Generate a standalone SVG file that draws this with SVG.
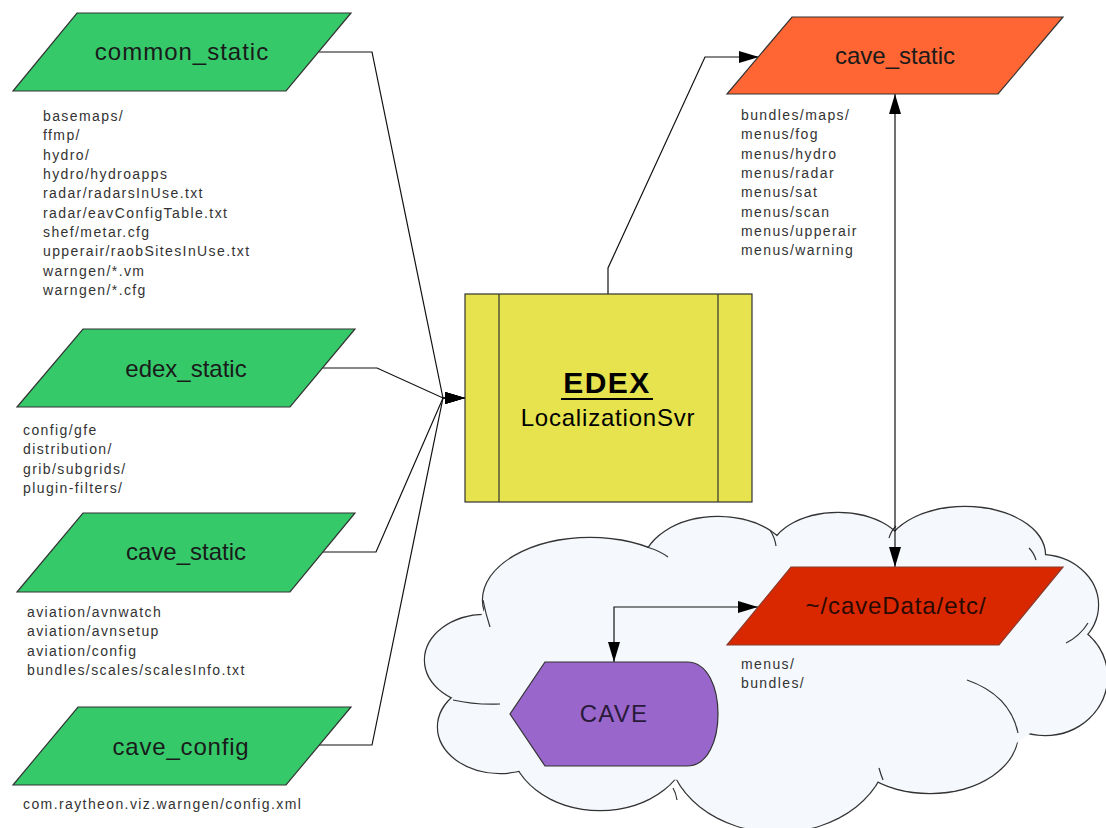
<svg xmlns="http://www.w3.org/2000/svg" width="1106" height="828" viewBox="0 0 1106 828">
<style>
text{font-family:"Liberation Sans",Arial,sans-serif}
.lbl{font-size:24px;fill:#1a1a1a;text-anchor:middle}
.lst{font-size:14px;letter-spacing:1.4px;fill:#333}
.green{fill:#35c96a;stroke:#333;stroke-width:1.2}
.conn{fill:none;stroke:#111;stroke-width:1.2}
.cl-s{fill:none;stroke:#333;stroke-width:2.4}
.cl-f{fill:#f5f9fd;stroke:none}
.hook{fill:none;stroke:#333;stroke-width:1.2}
</style>
<defs>
<marker id="arr" markerUnits="userSpaceOnUse" markerWidth="20" markerHeight="12" refX="20" refY="6" orient="auto-start-reverse" viewBox="0 0 20 12">
<path d="M0,0 L20,6 L0,12 Z" fill="#000"/>
</marker>
</defs>
<rect width="1106" height="828" fill="#fff"/>

<g id="cloud">
<g class="cl-s">
<ellipse cx="590" cy="600" rx="107" ry="62"/>
<ellipse cx="718" cy="567" rx="75" ry="50"/>
<ellipse cx="838" cy="555" rx="68" ry="42"/>
<ellipse cx="965" cy="555" rx="80" ry="48"/>
<ellipse cx="1040" cy="605" rx="58" ry="50"/>
<ellipse cx="1045" cy="677" rx="62" ry="58"/>
<ellipse cx="930" cy="733" rx="88" ry="60"/>
<ellipse cx="778" cy="745" rx="110" ry="87"/>
<ellipse cx="600" cy="740" rx="90" ry="70"/>
<ellipse cx="500" cy="727" rx="62" ry="46"/>
<ellipse cx="485" cy="660" rx="60" ry="45"/>
</g>
<g class="cl-f">
<ellipse cx="590" cy="600" rx="107" ry="62"/>
<ellipse cx="718" cy="567" rx="75" ry="50"/>
<ellipse cx="838" cy="555" rx="68" ry="42"/>
<ellipse cx="965" cy="555" rx="80" ry="48"/>
<ellipse cx="1040" cy="605" rx="58" ry="50"/>
<ellipse cx="1045" cy="677" rx="62" ry="58"/>
<ellipse cx="930" cy="733" rx="88" ry="60"/>
<ellipse cx="778" cy="745" rx="110" ry="87"/>
<ellipse cx="600" cy="740" rx="90" ry="70"/>
<ellipse cx="500" cy="727" rx="62" ry="46"/>
<ellipse cx="485" cy="660" rx="60" ry="45"/>
<polygon points="490,600 560,560 650,560 776,550 890,545 1036,570 1080,620 1090,690 1000,755 875,775 780,820 680,780 530,770 460,730 450,670"/>
</g>
<path class="hook" d="M647,547 Q660,551 668,557"/>
<path class="hook" d="M483,600 Q486,615 490,627"/>
<path class="hook" d="M453,700 Q475,705 500,704"/>
<path class="hook" d="M677,800 Q676,793 673,788"/>
<path class="hook" d="M770,530 Q775,538 776,546"/>
<path class="hook" d="M896,526 Q891,531 889,538"/>
<path class="hook" d="M1029,548 Q1034,553 1036,560"/>
<path class="hook" d="M1066,643 Q1080,636 1088,623"/>
<path class="hook" d="M967,680 Q1010,695 1018,733"/>
<path class="hook" d="M879,768 Q881,775 883,780"/>
</g>

<g id="connectors">
<polyline class="conn" points="319,52 372,52 443,398 465,398" marker-end="url(#arr)"/>
<polyline class="conn" points="323,368 377,368 443,398 465,398" marker-end="url(#arr)"/>
<polyline class="conn" points="323,552 376,552 443,398 465,398" marker-end="url(#arr)"/>
<polyline class="conn" points="319,745 372,745 443,398 465,398" marker-end="url(#arr)"/>
<polyline class="conn" points="608,294 608,268 705,57 759,57" marker-end="url(#arr)"/>
<polyline class="conn" points="895,94 895,567" marker-start="url(#arr)" marker-end="url(#arr)"/>
<polyline class="conn" points="758,607 614,607 614,662" marker-start="url(#arr)" marker-end="url(#arr)"/>
</g>

<g id="node-common-static">
<polygon class="green" points="77,13 351,13 286,91 13,91"/>
<text class="lbl" x="182" y="60" style="letter-spacing:1px">common_static</text>
<text class="lst" x="43" y="121">basemaps/</text>
<text class="lst" x="43" y="140.3">ffmp/</text>
<text class="lst" x="43" y="159.7">hydro/</text>
<text class="lst" x="43" y="179">hydro/hydroapps</text>
<text class="lst" x="43" y="198.3">radar/radarsInUse.txt</text>
<text class="lst" x="43" y="217.7">radar/eavConfigTable.txt</text>
<text class="lst" x="43" y="237">shef/metar.cfg</text>
<text class="lst" x="43" y="256.3">upperair/raobSitesInUse.txt</text>
<text class="lst" x="43" y="275.7">warngen/*.vm</text>
<text class="lst" x="43" y="295">warngen/*.cfg</text>
</g>

<g id="node-edex-static">
<polygon class="green" points="83,329 355,329 290,407 17,407"/>
<text class="lbl" x="186" y="377">edex_static</text>
<text class="lst" x="23" y="435">config/gfe</text>
<text class="lst" x="23" y="454.4">distribution/</text>
<text class="lst" x="23" y="473.8">grib/subgrids/</text>
<text class="lst" x="23" y="493.2">plugin-filters/</text>
</g>

<g id="node-cave-static-green">
<polygon class="green" points="83,513 355,513 290,592 17,592"/>
<text class="lbl" x="186" y="560">cave_static</text>
<text class="lst" x="27" y="617">aviation/avnwatch</text>
<text class="lst" x="27" y="636.4">aviation/avnsetup</text>
<text class="lst" x="27" y="655.8">aviation/config</text>
<text class="lst" x="27" y="675.2">bundles/scales/scalesInfo.txt</text>
</g>

<g id="node-cave-config">
<polygon class="green" points="78,707 351,707 286,785 13,785"/>
<text class="lbl" x="181" y="755" style="letter-spacing:0.8px">cave_config</text>
<text class="lst" x="23" y="809">com.raytheon.viz.warngen/config.xml</text>
</g>

<g id="node-edex">
<rect x="465" y="294" width="287" height="208" fill="#e6e34e" stroke="#333" stroke-width="1.2"/>
<line x1="499" y1="294" x2="499" y2="502" stroke="#333" stroke-width="1.2"/>
<line x1="718" y1="294" x2="718" y2="502" stroke="#333" stroke-width="1.2"/>
<text x="607" y="393" text-anchor="middle" font-size="30" font-weight="bold" fill="#000" style="letter-spacing:1.5px">EDEX</text>
<line x1="561" y1="399" x2="653" y2="399" stroke="#000" stroke-width="2.2"/>
<text class="lbl" x="608" y="426" style="letter-spacing:0.8px;fill:#000">LocalizationSvr</text>
</g>

<g id="node-cave-static-orange">
<polygon points="792,17 1063,17 998,94 727,94" fill="#ff6633" stroke="#333" stroke-width="1.2"/>
<text class="lbl" x="895" y="64">cave_static</text>
<text class="lst" x="741" y="120">bundles/maps/</text>
<text class="lst" x="741" y="139.3">menus/fog</text>
<text class="lst" x="741" y="158.6">menus/hydro</text>
<text class="lst" x="741" y="177.9">menus/radar</text>
<text class="lst" x="741" y="197.2">menus/sat</text>
<text class="lst" x="741" y="216.5">menus/scan</text>
<text class="lst" x="741" y="235.8">menus/upperair</text>
<text class="lst" x="741" y="255">menus/warning</text>
</g>

<g id="node-cavedata">
<polygon points="791,567 1063,567 999,645 727,645" fill="#d92800" stroke="#8a3a2c" stroke-width="1.2"/>
<text class="lbl" x="896" y="614" style="letter-spacing:0.9px;fill:#2a0a00">~/caveData/etc/</text>
<text class="lst" x="741" y="669">menus/</text>
<text class="lst" x="741" y="688">bundles/</text>
</g>

<g id="node-cave">
<path d="M545,662 L687,662 C708,662 718,688 718,714 C718,740 708,766 687,766 L545,766 L510,714 Z" fill="#9966cc" stroke="#333" stroke-width="1.2"/>
<text class="lbl" x="614" y="722" style="letter-spacing:1.2px;fill:#2a1a3a">CAVE</text>
</g>
</svg>
